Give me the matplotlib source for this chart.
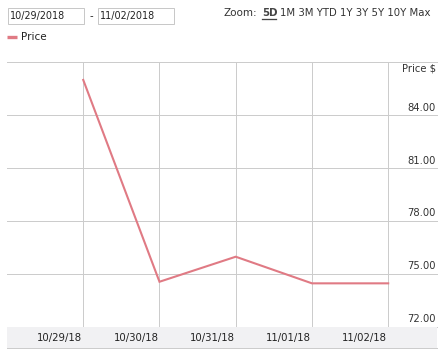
import matplotlib
matplotlib.use("Agg")
import matplotlib.pyplot as plt
from matplotlib.patches import Rectangle
from matplotlib.lines import Line2D

dates = ["10/29/18", "10/30/18", "10/31/18", "11/01/18", "11/02/18"]
prices = [86.00, 74.55, 75.97, 74.46, 74.46]
y_ticks = [72, 75, 78, 81, 84, 87]
y_tick_labels = ["72.00", "75.00", "78.00", "81.00", "84.00", ""]
range_start = "10/29/2018"
range_end = "11/02/2018"
zoom_options = ["1M", "3M", "YTD", "1Y", "3Y", "5Y", "10Y", "Max"]

W, H = 447, 361
fig = plt.figure(figsize=(W / 100, H / 100), dpi=100)
plt.rcParams['font.family'] = ['DejaVu Sans']

def fx(px):
    return px / W

def fy(py):
    return 1 - py / H

PX = 0.72  # one pixel in points
TXT = '#333333'
GRID = '#cccccc'
LINE = '#e07a84'

# main axes
ax_l, ax_r, ax_t, ax_b = 7, 437, 62.3, 326.7
ax = fig.add_axes([fx(ax_l), fy(ax_b), fx(ax_r - ax_l), (ax_b - ax_t) / H])
x = list(range(len(dates)))
ax.plot(x, prices, color=LINE, lw=1.5, solid_joinstyle='miter', zorder=3)
ax.set_xlim(-1, 4.64)
ax.set_ylim(72, 87)
for s in ax.spines.values():
    s.set_visible(False)
ax.set_xticks([])
ax.set_yticks([])
for v in y_ticks:
    ax.axhline(v, color=GRID, lw=PX, zorder=1, clip_on=False)
for xi in x:
    ax.axvline(xi, color=GRID, lw=PX, zorder=1)
for v, lab in zip(y_ticks, y_tick_labels):
    if lab:
        ax.annotate(lab, xy=(1, v), xycoords=('axes fraction', 'data'),
                    xytext=(-1, 4.5), textcoords='offset pixels',
                    ha='right', va='baseline', fontsize=7.2, color=TXT)
ax.annotate("Price $", xy=(1, 87), xycoords=('axes fraction', 'data'),
            xytext=(-1, -9), textcoords='offset pixels',
            ha='right', va='baseline', fontsize=7.2, color=TXT)

# date band
band_b = 348.3
bax = fig.add_axes([fx(ax_l), fy(band_b), fx(ax_r - ax_l), (band_b - ax_b) / H])
bax.set_facecolor('#f1f1f3')
bax.set_xlim(-1, 4.64)
bax.set_ylim(0, 1)
bax.set_xticks([])
bax.set_yticks([])
for k, s in bax.spines.items():
    s.set_visible(k == 'bottom')
bax.spines['bottom'].set_color(GRID)
bax.spines['bottom'].set_linewidth(PX)
for xi, d in zip(x, dates):
    bax.annotate(d, xy=(xi, 0.5), xycoords='data', xytext=(-1, 0),
                 textcoords='offset pixels', ha='right', va='center',
                 fontsize=7.3, color='#222222')

# top controls
def box(x0, y0, x1, y1):
    fig.patches.append(Rectangle((fx(x0), fy(y1)), fx(x1 - x0), (y1 - y0) / H,
                                 transform=fig.transFigure, facecolor='white',
                                 edgecolor='#c8c8c8', lw=PX))

box(7.5, 8.5, 84, 23.5)
box(97.5, 8.5, 174, 23.5)
fig.text(fx(9.5), fy(16.3), range_start, ha='left', va='center', fontsize=6.9, color='#222222')
fig.text(fx(99.5), fy(16.3), range_end, ha='left', va='center', fontsize=6.9, color='#222222')
fig.text(fx(91), fy(16), "-", ha='center', va='center', fontsize=7.3, color='#222222')

fig.text(fx(224), fy(13.5), "Zoom:", ha='left', va='center', fontsize=7.5, color=TXT)
fig.text(fx(262), fy(13.5), "5D", ha='left', va='center', fontsize=7.3, color='#444444', weight='bold')
fig.lines.append(Line2D([fx(262), fx(276)], [fy(18.7), fy(18.7)], transform=fig.transFigure,
                        color='#444444', lw=PX * 1.3))
fig.text(fx(280), fy(13.5), " ".join(zoom_options), ha='left', va='center', fontsize=7.3, color=TXT)

# legend
fig.lines.append(Line2D([fx(7), fx(17)], [fy(37.3), fy(37.3)], transform=fig.transFigure,
                        color=LINE, lw=2.4, solid_capstyle='butt'))
fig.text(fx(21.5), fy(37.5), "Price", ha='left', va='center', fontsize=7.5, color='#222222')

fig.savefig("out.png", dpi=100)
